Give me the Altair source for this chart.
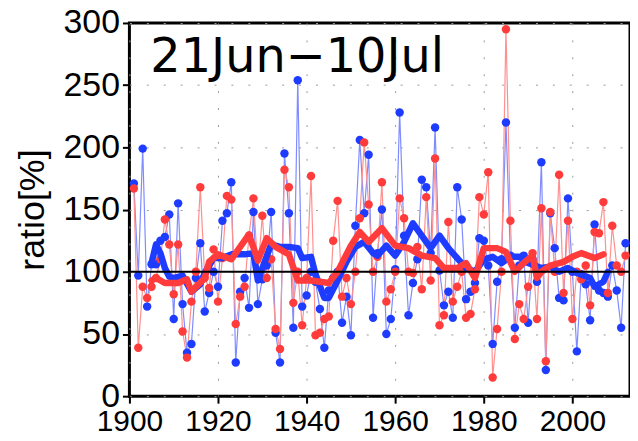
import altair as alt
import pandas as pd

years = list(range(1901, 2013))

blue = [171, 97, 199, 72, 106, 106, 125, 128, 146, 62,
        155, 74, 35, 42, 95, 123, 68, 83, 100, 88,
        141, 147, 172, 27, 84, 95, 71, 148, 74, 94,
        105, 148, 51, 27, 195, 147, 55, 254, 72, 81,
        100, 92, 70, 39, 85, 95, 100, 59, 80, 49,
        137, 206, 147, 194, 63, 115, 150, 50, 62, 102,
        228, 129, 65, 91, 110, 174, 168, 115, 216, 101,
        73, 84, 63, 168, 142, 78, 84, 91, 127, 125,
        105, 42, 92, 110, 220, 113, 55, 105, 113, 59,
        110, 92, 188, 21, 147, 119, 79, 77, 159, 100,
        36, 98, 90, 61, 138, 85, 83, 80, 105, 85,
        55, 123]

red = [167, 39, 88, 79, 88, 95, 110, 142, 122, 82,
       122, 52, 31, 76, 100, 168, 95, 87, 118, 76,
       111, 161, 158, 58, 80, 88, 129, 159, 100, 145,
       95, 110, 54, 38, 182, 168, 75, 100, 57, 95,
       177, 49, 51, 62, 64, 125, 157, 80, 95, 74,
       100, 143, 204, 154, 100, 112, 172, 76, 86, 100,
       159, 143, 100, 99, 120, 86, 160, 93, 191, 57,
       65, 140, 76, 88, 100, 63, 66, 86, 160, 146,
       180, 15, 54, 100, 295, 141, 46, 74, 62, 88,
       115, 62, 151, 28, 148, 100, 178, 83, 141, 62,
       100, 94, 105, 73, 132, 131, 156, 83, 137, 105,
       100, 113]

# running-mean curves
blue_sm_years = [1905, 1906, 1907, 1908, 1909, 1910, 1912, 1914, 1916, 1917,
                 1919, 1921, 1923, 1926, 1928, 1929, 1930, 1932, 1934, 1936,
                 1938, 1939, 1941, 1942, 1944, 1945, 1947, 1949, 1951, 1953,
                 1955, 1956, 1958, 1960, 1962, 1964, 1966, 1968, 1970, 1972,
                 1974, 1976, 1978, 1980, 1982, 1984, 1986, 1988, 1990, 1993,
                 1995, 1997, 1999, 2001, 2004, 2005, 2007, 2008]
blue_sm = [107, 122, 115, 103, 96, 95, 97, 84, 90, 99,
           111, 111, 114, 114, 115, 93, 103, 122, 120, 120,
           119, 111, 112, 98, 79, 79, 93, 108, 120, 124,
           115, 113, 121, 113, 124, 139, 129, 119, 129, 119,
           111, 103, 100, 110, 112, 107, 112, 112, 107, 103,
           104, 100, 103, 99, 95, 88, 92, 100]

red_sm_years = [1905, 1906, 1908, 1911, 1913, 1914, 1917, 1918, 1920, 1923,
                1925, 1927, 1929, 1931, 1933, 1936, 1938, 1941, 1945, 1947,
                1950, 1952, 1954, 1957, 1960, 1963, 1966, 1969, 1971, 1974,
                1976, 1978, 1980, 1983, 1985, 1986, 1987, 1989, 1991, 1992,
                1993, 1995, 1998, 2000, 2002, 2005, 2007]
red_sm = [93, 95, 91, 91, 94, 84, 95, 108, 114, 110,
          120, 130, 109, 127, 120, 114, 93, 93, 91, 100,
          121, 132, 124, 135, 121, 119, 113, 111, 103, 103,
          107, 95, 119, 119, 116, 108, 100, 107, 113, 95,
          100, 105, 108, 112, 115, 111, 114]

x_ticks = [1900, 1920, 1940, 1960, 1980, 2000]
y_ticks = [0, 50, 100, 150, 200, 250, 300]
label_text = ["21Jun\u221210Jul"]
ref_value = [100]

BLUE = "#1e3cff"
RED = "#ff3b3b"
BLUE_LIGHT = "#7f8cff"
RED_LIGHT = "#ff9090"

xenc = alt.X("year:Q", title=None,
             scale=alt.Scale(domain=[1900, 2013], nice=False, zero=False),
             axis=alt.Axis(values=x_ticks, format="d", labelOverlap=False, labelFlush=False))
yenc = alt.Y("ratio:Q", title="ratio[%]",
             scale=alt.Scale(domain=[0, 300], nice=False),
             axis=alt.Axis(values=y_ticks, labelOverlap=False, labelFlush=False))

def raw_layers(vals, light, strong):
    d = pd.DataFrame({"year": years, "ratio": vals})
    b = alt.Chart(d)
    thin = b.mark_line(color=light, strokeWidth=1.2).encode(x=xenc, y=yenc)
    pts = b.mark_circle(color=strong, size=72, opacity=1).encode(x=xenc, y=yenc)
    return thin, pts

def smooth_layer(yrs, vals, strong):
    d = pd.DataFrame({"year": yrs, "ratio": vals})
    return alt.Chart(d).mark_line(
        color=strong, strokeWidth=6.5, strokeJoin="round", strokeCap="round"
    ).encode(x=xenc, y=yenc)

bt, bp = raw_layers(blue, BLUE_LIGHT, BLUE)
rt, rp = raw_layers(red, RED_LIGHT, RED)
bs = smooth_layer(blue_sm_years, blue_sm, BLUE)
rs = smooth_layer(red_sm_years, red_sm, RED)

rule = alt.Chart(pd.DataFrame({"ratio": ref_value})).mark_rule(
    color="black", strokeWidth=2
).encode(y=yenc)

label = alt.Chart(pd.DataFrame({"t": label_text})).mark_text(
    align="left", baseline="top", fontSize=48, font="DejaVu Sans", color="black"
).encode(text="t:N", x=alt.value(21), y=alt.value(11))

chart = alt.layer(bt, rt, bp, rp, bs, rs, rule, label).properties(
    width=503, height=375,
    autosize=alt.AutoSizeParams(type="none"),
    padding={"left": 122, "top": 14, "right": 0, "bottom": 44},
).configure_view(
    stroke="black", strokeWidth=3
).configure_axis(
    domain=False,
    grid=True, gridColor="#9a9a9a", gridDash=[2, 15], gridWidth=1,
    ticks=True, tickColor="black", tickWidth=2, tickSize=7,
    labelColor="black",
    titleFont="Liberation Sans", titleFontSize=36, titleFontWeight="normal", titleColor="black",
).configure_axisX(
    labelFont="Liberation Sans", labelFontSize=30, labelPadding=3,
).configure_axisY(
    labelFont="Liberation Sans", labelFontSize=34, labelPadding=3, titlePadding=12,
)

chart.save("out.html", embed_options={"renderer": "svg", "actions": False})
